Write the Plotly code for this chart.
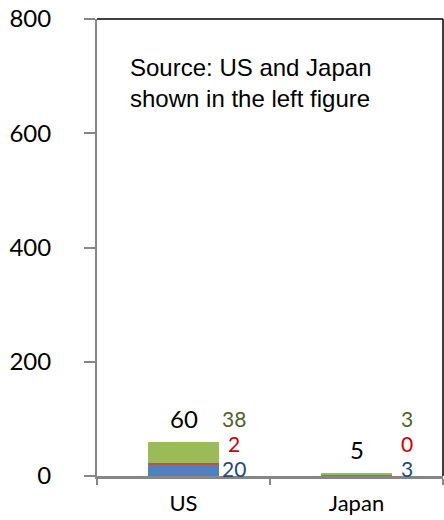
import plotly.graph_objects as go

# Stacked values per country
categories = ["US", "Japan"]
blue_vals = [20, 2.6]
red_vals = [2, 0.2]
green_vals = [38, 2.6]
totals = [b + r + g for b, r, g in zip(blue_vals, red_vals, green_vals)]

y_tick_vals = [0, 200, 400, 600, 800]
source_note = "Source: US and Japan<br>shown in the left figure"

BAR_BLUE = "#4F81BD"
BAR_RED = "#C0504D"
BAR_GREEN = "#9BBB59"
TXT_BLUE = "#1F497D"
TXT_RED = "#D00000"
TXT_GREEN = "#4F6228"
AXIS_GRAY = "#868686"
LABEL_FONT = "Lato, Open Sans, sans-serif"
FS = 24
SIDE_FS = 21

fig = go.Figure()
for vals, col in [(blue_vals, BAR_BLUE), (red_vals, BAR_RED), (green_vals, BAR_GREEN)]:
    fig.add_trace(go.Bar(
        x=categories, y=vals, width=0.41,
        marker=dict(color=col, line=dict(width=0)),
        hoverinfo="skip", showlegend=False,
    ))

annotations = []
# totals above each stack
for cat, tot in zip(categories, totals):
    annotations.append(dict(
        x=cat, y=tot, xref="x", yref="y", text=f"{tot:.0f}",
        showarrow=False, yanchor="bottom", yshift=7,
        font=dict(family=LABEL_FONT, size=FS, color="black"),
    ))

# component labels stacked to the right of each bar
for i, cat in enumerate(categories):
    for val, col, shift in [(green_vals[i], TXT_GREEN, 58),
                            (red_vals[i], TXT_RED, 33),
                            (blue_vals[i], TXT_BLUE, 8)]:
        annotations.append(dict(
            x=cat, y=0, xref="x", yref="y", text=f"{val:.0f}",
            showarrow=False, xanchor="center", yanchor="middle",
            xshift=50, yshift=shift,
            font=dict(family=LABEL_FONT, size=SIDE_FS, color=col),
        ))

annotations.append(dict(
    x=0.09, y=0.86, xref="paper", yref="paper", text=source_note,
    showarrow=False, xanchor="left", yanchor="middle", align="left",
    font=dict(family="Liberation Sans, Arial, sans-serif", size=24, color="black"),
))

fig.update_layout(
    barmode="stack",
    width=444, height=520,
    margin=dict(l=97, r=1, t=19, b=44),
    paper_bgcolor="white", plot_bgcolor="white",
    annotations=annotations,
    shapes=[
        dict(type="line", xref="paper", yref="paper", x0=0, x1=1, y0=1, y1=1,
             line=dict(color="black", width=1.5)),
        dict(type="line", xref="paper", yref="paper", x0=1, x1=1, y0=0, y1=1,
             line=dict(color="black", width=1.5)),
    ],
    xaxis=dict(
        type="category", range=[-0.5, 1.5], automargin=False,
        showline=True, linecolor=AXIS_GRAY, linewidth=3,
        ticks="outside", tickson="boundaries", ticklen=6, tickcolor=AXIS_GRAY, tickwidth=2,
        showgrid=False, zeroline=False,
        tickfont=dict(family=LABEL_FONT, size=22, color="black"),
        ticklabelstandoff=6,
    ),
    yaxis=dict(
        range=[0, 800], tickvals=y_tick_vals, automargin=False,
        showline=True, linecolor=AXIS_GRAY, linewidth=2,
        ticks="outside", ticklen=11, tickcolor=AXIS_GRAY, tickwidth=2,
        showgrid=False, zeroline=False,
        tickfont=dict(family=LABEL_FONT, size=FS, color="black"),
        ticklabelstandoff=28,
    ),
)

fig.write_html("out.html")
